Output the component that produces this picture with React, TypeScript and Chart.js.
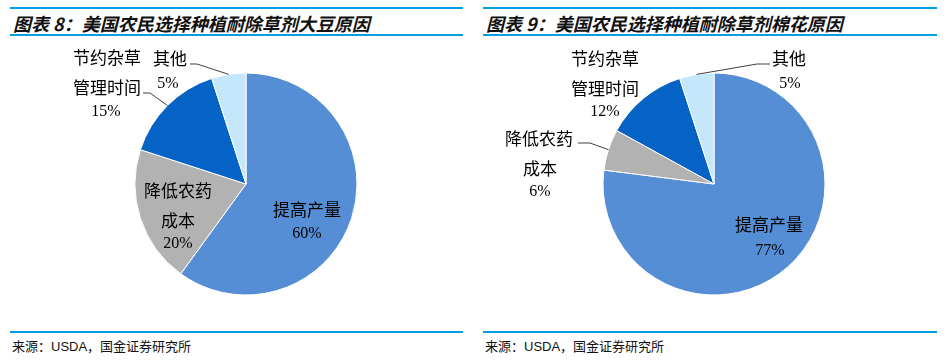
import React, { useEffect, useRef } from 'react';
import { Chart, registerables } from 'chart.js';

Chart.register(...registerables);

// ---- data ----
const categories = ['提高产量', '降低农药成本', '节约杂草管理时间', '其他'];
const soybeanValues = [60, 20, 15, 5];
const cottonValues = [77, 6, 12, 5];
const soybeanTitle = '图表 8：美国农民选择种植耐除草剂大豆原因';
const cottonTitle = '图表 9：美国农民选择种植耐除草剂棉花原因';
const sourceText = '来源：USDA，国金证券研究所';
const sliceColors = ['#558ED5', '#B2B2B2', '#0563C6', '#C5E7FB'];

// ---- label layout (text split + offsets from pie centre) ----
const soybeanLabels = [
  { text: ['提高产量'], pos: [[61, 26], [61, 50]] },
  { text: ['降低农药', '成本'], pos: [[-68, 7], [-68, 37], [-68, 60]] },
  { text: ['节约杂草', '管理时间'], pos: [[-139, -126], [-139, -96], [-140, -72]], leader: [[-103, -91], [-96, -91]] },
  { text: ['其他'], pos: [[-76, -125], [-78, -100]], leader: [[-56, -120], [-49, -120]] },
];
const cottonLabels = [
  { text: ['提高产量'], pos: [[55, 41], [56, 67]] },
  { text: ['降低农药', '成本'], pos: [[-175, -45], [-174, -15], [-174, 8]], leader: [[-136, -41], [-124, -41]] },
  { text: ['节约杂草', '管理时间'], pos: [[-109, -125], [-109, -95], [-109, -72]] },
  { text: ['其他'], pos: [[75, -125], [76, -100]], leader: [[56, -120], [43, -120]] },
];

const CJK = '"Noto Sans CJK SC", "Noto Sans", sans-serif';
const labelFont = `17px ${CJK}`;
const pctFont = '16px "Liberation Serif", "DejaVu Serif", serif';
const lineColor = '#009FE3';

const labelPlugin = {
  id: 'pieLabels',
  afterDatasetsDraw(chart: any, _args: any, opts: any) {
    const ctx = chart.ctx as CanvasRenderingContext2D;
    const meta = chart.getDatasetMeta(0);
    const values = chart.data.datasets[0].data as number[];
    const items = opts.items || [];
    ctx.save();
    ctx.textAlign = 'center';
    ctx.textBaseline = 'middle';
    items.forEach((item: any, i: number) => {
      const arc = meta.data[i];
      if (!arc) return;
      const p = arc.getProps(['x', 'y', 'startAngle', 'endAngle', 'outerRadius'], true);
      const mid = (p.startAngle + p.endAngle) / 2;
      if (item.leader) {
        ctx.beginPath();
        ctx.strokeStyle = '#404040';
        ctx.lineWidth = 1;
        ctx.moveTo(p.x + item.leader[0][0], p.y + item.leader[0][1]);
        ctx.lineTo(p.x + item.leader[1][0], p.y + item.leader[1][1]);
        ctx.lineTo(p.x + Math.cos(mid) * p.outerRadius, p.y + Math.sin(mid) * p.outerRadius);
        ctx.stroke();
      }
      const lines = [...item.text, `${values[i]}%`];
      ctx.fillStyle = '#000';
      lines.forEach((t: string, k: number) => {
        const [dx, dy] = item.pos[k];
        ctx.font = k === lines.length - 1 ? pctFont : labelFont;
        ctx.fillText(t, p.x + dx, p.y + dy);
      });
    });
    ctx.restore();
  },
};

function PieCanvas({ values, labels, left, width }: { values: number[]; labels: any[]; left: number; width: number }) {
  const ref = useRef<HTMLCanvasElement>(null);
  useEffect(() => {
    if (!ref.current) return;
    const chart = new Chart(ref.current, {
      type: 'pie',
      data: {
        labels: categories,
        datasets: [
          {
            data: values,
            backgroundColor: sliceColors,
            borderColor: '#ffffff',
            borderWidth: 1,
          },
        ],
      },
      options: {
        responsive: false,
        maintainAspectRatio: false,
        animation: false,
        radius: 111,
        layout: { padding: 0 },
        plugins: {
          legend: { display: false },
          tooltip: { enabled: false },
          pieLabels: { items: labels },
        } as any,
      },
      plugins: [labelPlugin],
    });
    return () => chart.destroy();
  }, []);
  return (
    <canvas
      ref={ref}
      width={width}
      height={288}
      style={{ position: 'absolute', left, top: 40, width, height: 288 }}
    />
  );
}

function Panel({ x0, x1, title }: { x0: number; x1: number; title: string }) {
  const w = x1 - x0;
  return (
    <>
      <div style={{ position: 'absolute', left: x0, top: 7, width: w, height: 1.5, background: lineColor }} />
      <div
        style={{
          position: 'absolute',
          left: x0 + 3,
          top: 10,
          height: 24,
          lineHeight: '24px',
          font: `italic bold 18px ${CJK}`,
          color: '#111',
          whiteSpace: 'nowrap',
        }}
      >
        {title}
      </div>
      <div style={{ position: 'absolute', left: x0, top: 34, width: w, height: 2, background: lineColor }} />
      <div style={{ position: 'absolute', left: x0, top: 331, width: w, height: 2, background: lineColor }} />
      <div
        style={{
          position: 'absolute',
          left: x0 + 2,
          top: 336,
          height: 18,
          lineHeight: '18px',
          font: `13px "Liberation Sans", ${CJK}`,
          color: '#111',
          whiteSpace: 'nowrap',
        }}
      >
        {sourceText}
      </div>
    </>
  );
}

export default function App() {
  return (
    <div style={{ position: 'absolute', left: 0, top: 0, width: 947, height: 360, background: '#fff', overflow: 'hidden' }}>
      <Panel x0={10} x1={463} title={soybeanTitle} />
      <Panel x0={483} x1={937} title={cottonTitle} />
      <PieCanvas values={soybeanValues} labels={soybeanLabels} left={40} width={412} />
      <PieCanvas values={cottonValues} labels={cottonLabels} left={490} width={448} />
    </div>
  );
}
